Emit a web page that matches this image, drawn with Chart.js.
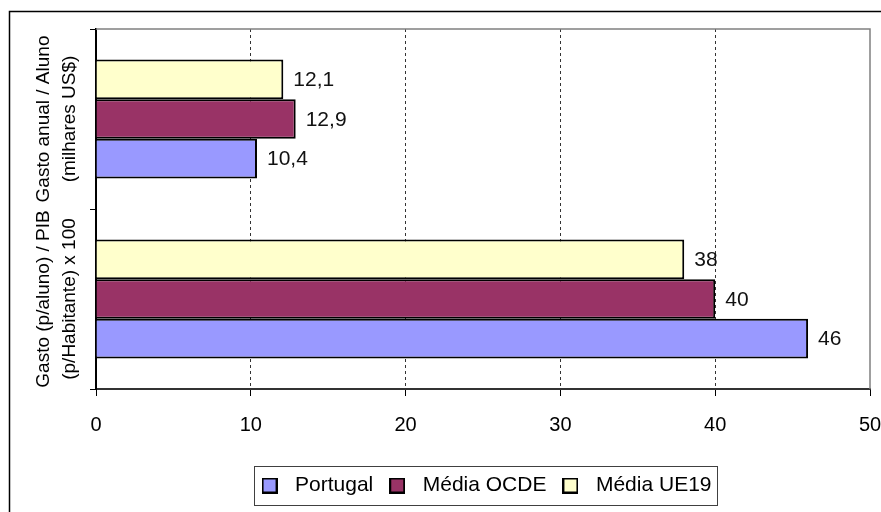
<!DOCTYPE html>
<html>
<head>
<meta charset="utf-8">
<script src="https://cdn.jsdelivr.net/npm/chart.js@4"></script>
<style>
  html, body { margin: 0; padding: 0; background: #fff; }
  #wrap { width: 881px; height: 512px; position: relative; }
</style>
</head>
<body>
<div id="wrap"><canvas id="chart"></canvas></div>
<script>
// categories (top to bottom), each label split in two lines
const categories = [
    ['Gasto anual / Aluno', '(milhares US$)'],
    ['Gasto (p/aluno) / PIB', '(p/Habitante) x 100']
];

const seriesNames = ['Média UE19', 'Média OCDE', 'Portugal'];
const ue19 = [12.1, 38];
const ocde = [12.9, 40];
const portugal = [10.4, 46];

const xTicks = [0, 10, 20, 30, 40, 50];

const colors = ['#FFFFCC', '#993366', '#9999FF'];
const FONT = '"Liberation Sans", Arial, sans-serif';

// little square icons for the legend
function makeIcon(color) {
    const c = document.createElement('canvas');
    c.width = 16;
    c.height = 16;
    const g = c.getContext('2d');
    g.fillStyle = color;
    g.fillRect(0, 0, 16, 16);
    g.strokeStyle = '#000';
    g.lineWidth = 2;
    g.strokeRect(1, 1, 14, 14);
    return c;
}
const icons = colors.map(makeIcon);

const framePlugin = {
    id: 'frame',
    beforeDraw(chart) {
        const ctx = chart.ctx;
        ctx.save();
        ctx.fillStyle = '#fff';
        ctx.fillRect(0, 0, chart.width, chart.height);
        ctx.strokeStyle = '#000';
        ctx.lineWidth = 1.5;
        ctx.strokeRect(9.5, 11.5, 1000, 1000);
        ctx.restore();
    },
    afterDraw(chart) {
        const ctx = chart.ctx;
        const a = chart.chartArea;
        ctx.save();
        // grey top/right edge of plot area
        ctx.strokeStyle = '#808080';
        ctx.lineWidth = 1.5;
        ctx.beginPath();
        ctx.moveTo(a.left, a.top);
        ctx.lineTo(a.right, a.top);
        ctx.lineTo(a.right, a.bottom);
        ctx.stroke();

        // rotated category labels
        const yScale = chart.scales.y;
        ctx.fillStyle = '#000';
        ctx.font = '19px ' + FONT;
        ctx.textAlign = 'center';
        ctx.textBaseline = 'middle';
        categories.forEach((lines, i) => {
            const y = yScale.getPixelForValue(i);
            ctx.save();
            ctx.translate(57, y);
            ctx.rotate(-Math.PI / 2);
            ctx.fillText(lines[0], 0, -13);
            ctx.fillText(lines[1], 0, 13);
            ctx.restore();
        });

        // legend frame
        const boxes = chart.legend.legendHitBoxes;
        if (boxes && boxes.length) {
            const l = Math.min(...boxes.map(b => b.left)) - 1;
            const r = Math.max(...boxes.map(b => b.left + b.width)) + 5;
            const t = Math.min(...boxes.map(b => b.top)) - 9;
            const bt = Math.max(...boxes.map(b => b.top + b.height)) + 9;
            ctx.strokeStyle = '#404040';
            ctx.lineWidth = 1;
            ctx.strokeRect(Math.round(l) + 0.5, Math.round(t) + 0.5, Math.round(r - l), Math.round(bt - t));
        }
        ctx.restore();
    },
    afterDatasetsDraw(chart) {
        const ctx = chart.ctx;
        ctx.save();
        ctx.fillStyle = '#111';
        ctx.font = '21px ' + FONT;
        ctx.textAlign = 'left';
        ctx.textBaseline = 'middle';
        chart.data.datasets.forEach((ds, di) => {
            const meta = chart.getDatasetMeta(di);
            meta.data.forEach((bar, i) => {
                const txt = String(ds.data[i]).replace('.', ',');
                ctx.fillText(txt, bar.x + 10, bar.y + 1);
            });
        });
        ctx.restore();
    }
};

const ctx = document.getElementById('chart').getContext('2d');

new Chart(ctx, {
    type: 'bar',
    data: {
        labels: categories,
        datasets: [ue19, ocde, portugal].map((vals, i) => ({
            label: seriesNames[i],
            data: vals,
            backgroundColor: colors[i],
            borderColor: '#000',
            borderWidth: 2,
            categoryPercentage: 0.66,
            barPercentage: 1.0
        }))
    },
    options: {
        indexAxis: 'y',
        responsive: true,
        maintainAspectRatio: false,
        animation: false,
        layout: { padding: { top: 29, left: 0, right: 11, bottom: 6 } },
        scales: {
            x: {
                min: 0,
                max: 50,
                afterBuildTicks(scale) {
                    scale.ticks = xTicks.map(v => ({ value: v }));
                },
                afterFit(scale) {
                    scale.height += 12;
                    scale.paddingLeft = 0;
                    scale.paddingRight = 0;
                },
                ticks: {
                    color: '#000',
                    font: { family: FONT, size: 20 },
                    padding: 17,
                    maxRotation: 0
                },
                grid: {
                    color: c => (c.tick && (c.tick.value === 0 || c.tick.value === 50)) ? 'rgba(0,0,0,0)' : '#333',
                    lineWidth: 1,
                    tickColor: '#000',
                    tickLength: 7,
                    tickWidth: 1
                },
                border: { color: '#333', width: 2, dash: [3, 3] }
            },
            y: {
                offset: true,
                afterFit(scale) {
                    scale.width = 96;
                },
                ticks: { display: false },
                grid: {
                    offset: true,
                    drawOnChartArea: false,
                    tickColor: '#000',
                    tickLength: 6,
                    tickWidth: 1
                },
                border: { color: '#000', width: 2 }
            }
        },
        plugins: {
            tooltip: { enabled: false },
            legend: {
                position: 'bottom',
                fullSize: false,
                reverse: true,
                labels: {
                    color: '#000',
                    font: { family: FONT, size: 21 },
                    usePointStyle: true,
                    pointStyleWidth: 30,
                    padding: 9,
                    generateLabels(chart) {
                        const items = Chart.defaults.plugins.legend.labels.generateLabels(chart);
                        items.forEach(it => { it.pointStyle = icons[it.datasetIndex]; });
                        return items;
                    }
                }
            }
        }
    },
    plugins: [framePlugin]
});
</script>
</body>
</html>
